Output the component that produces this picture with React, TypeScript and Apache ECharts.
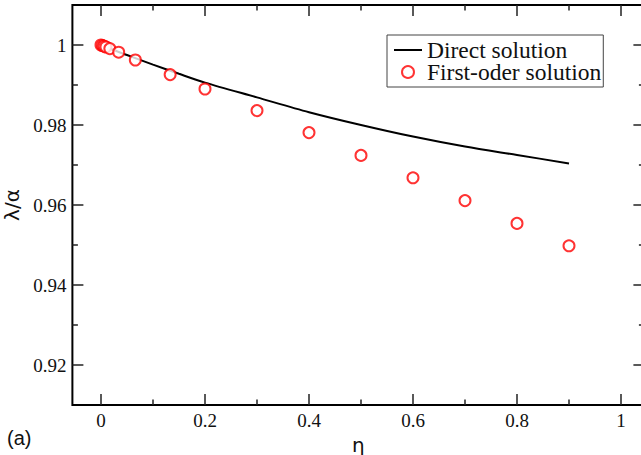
import React, { useEffect, useRef } from 'react';
import * as echarts from 'echarts';

// Direct solution (solid black curve)
const directEta = [0, 0.025, 0.05, 0.1, 0.15, 0.2, 0.3, 0.4, 0.5, 0.6, 0.7, 0.8, 0.9];
const directLambda = [1, 0.9987, 0.9975, 0.9951, 0.9928, 0.9906, 0.9869, 0.9832, 0.98, 0.9771, 0.9746, 0.9725, 0.9704];

// First-order solution (red open circles)
const firstEta = [0, 0.003, 0.006, 0.0095, 0.017, 0.034, 0.066, 0.133, 0.2, 0.3, 0.4, 0.5, 0.6, 0.7, 0.8, 0.9];
const firstLambda = [1, 0.99985, 0.9997, 0.9995, 0.9991, 0.9982, 0.99625, 0.9926, 0.989, 0.9836, 0.9781, 0.9724, 0.9668, 0.9611, 0.9554, 0.9498];

// Axis ranges / ticks
const xRange = [-0.055, 1.045];
const yRange = [0.91, 1.01];
const xMajorTicks = [0, 0.2, 0.4, 0.6, 0.8, 1];
const xMinorTicks = [0.1, 0.3, 0.5, 0.7, 0.9];
const yMajorTicks = [0.92, 0.94, 0.96, 0.98, 1];
const yMinorTicks = [0.93, 0.95, 0.97, 0.99];

const seriesNames = ['Direct solution', 'First-oder solution'];
const xName = 'η';
const yName = 'λ/α';
const panelLabel = '(a)';

const SERIF = 'Liberation Serif';
const TICKFONT = 'Times New Roman';
const SANS = 'Liberation Sans';
const SYM = 'DejaVu Sans';

export default function App() {
  const ref = useRef<HTMLDivElement>(null);
  useEffect(() => {
    if (!ref.current) return;
    const chart = echarts.init(ref.current, undefined, { renderer: 'svg' });
    const tickStyle = { color: '#222', width: 1.5 };

    const mkAxis = (
      position: string,
      range: number[],
      ticks: number[],
      len: number,
      labels: boolean,
      extra: any = {}
    ) => ({
      type: 'value',
      gridIndex: 0,
      position,
      offset: 0,
      min: range[0],
      max: range[1],
      axisLine: { show: false, onZero: false },
      splitLine: { show: false },
      axisTick: { show: true, inside: true, length: len, customValues: ticks, lineStyle: tickStyle },
      axisLabel: labels
        ? {
            show: true,
            customValues: ticks,
            margin: 6,
            fontFamily: TICKFONT,
            fontStyle: 'normal',
            fontWeight: 'normal',
            fontSize: 19,
            color: '#111',
          }
        : { show: false },
      ...extra,
    });

    chart.setOption({
      animation: false,
      backgroundColor: '#fff',
      textStyle: { fontFamily: SERIF },
      grid: {
        left: 72.4,
        top: 5,
        width: 572,
        height: 400,
        containLabel: false,
        outerBoundsMode: 'none',
        show: true,
        borderColor: '#000',
        borderWidth: 2,
        backgroundColor: 'transparent',
      },
      xAxis: [
        mkAxis('bottom', xRange, xMajorTicks, 11, true, {
          name: xName,
          nameLocation: 'middle',
          nameGap: 16,
          nameTextStyle: { fontFamily: SYM, fontSize: 20, color: '#111' },
        }),
        mkAxis('bottom', xRange, xMinorTicks, 5.5, false),
        mkAxis('top', xRange, xMajorTicks, 11, false),
        mkAxis('top', xRange, xMinorTicks, 5.5, false),
      ],
      yAxis: [
        mkAxis('left', yRange, yMajorTicks, 11, true, {
          name: yName,
          nameLocation: 'middle',
          nameGap: 48,
          nameRotate: 90,
          nameTextStyle: { fontFamily: SYM, fontSize: 20, color: '#111' },
        }),
        mkAxis('left', yRange, yMinorTicks, 5.5, false),
        mkAxis('right', yRange, yMajorTicks, 11, false),
        mkAxis('right', yRange, yMinorTicks, 5.5, false),
      ],
      legend: {
        orient: 'vertical',
        left: 387,
        top: 35,
        padding: [3, 2, 3, 7],
        itemGap: -2,
        itemWidth: 28,
        itemHeight: 12,
        borderColor: '#444',
        borderWidth: 1,
        backgroundColor: '#fff',
        textStyle: { fontFamily: SERIF, fontSize: 23.5, color: '#111' },
        data: [
          { name: seriesNames[0], icon: 'path://M0,0 L28,0 L28,2 L0,2 Z' },
          { name: seriesNames[1], icon: 'emptyCircle' },
        ],
      },
      graphic: [
        { type: 'text', left: 7, top: 428, style: { text: panelLabel, fontFamily: SANS, fontSize: 20, fill: '#111' } },
      ],
      series: [
        {
          name: seriesNames[0],
          type: 'line',
          data: directEta.map((x, i) => [x, directLambda[i]]),
          smooth: 0.3,
          symbol: 'none',
          lineStyle: { color: '#000', width: 2 },
          itemStyle: { color: '#000' },
          z: 2,
        },
        {
          name: seriesNames[1],
          type: 'scatter',
          data: firstEta.map((x, i) => [x, firstLambda[i]]),
          symbol: 'emptyCircle',
          symbolSize: 11,
          itemStyle: { color: '#ff0000', borderColor: '#ff0000', borderWidth: 1.6 },
          z: 3,
        },
      ],
    });
    return () => chart.dispose();
  }, []);
  return <div ref={ref} style={{ width: 641, height: 455, position: 'absolute', left: 0, top: 0 }} />;
}
